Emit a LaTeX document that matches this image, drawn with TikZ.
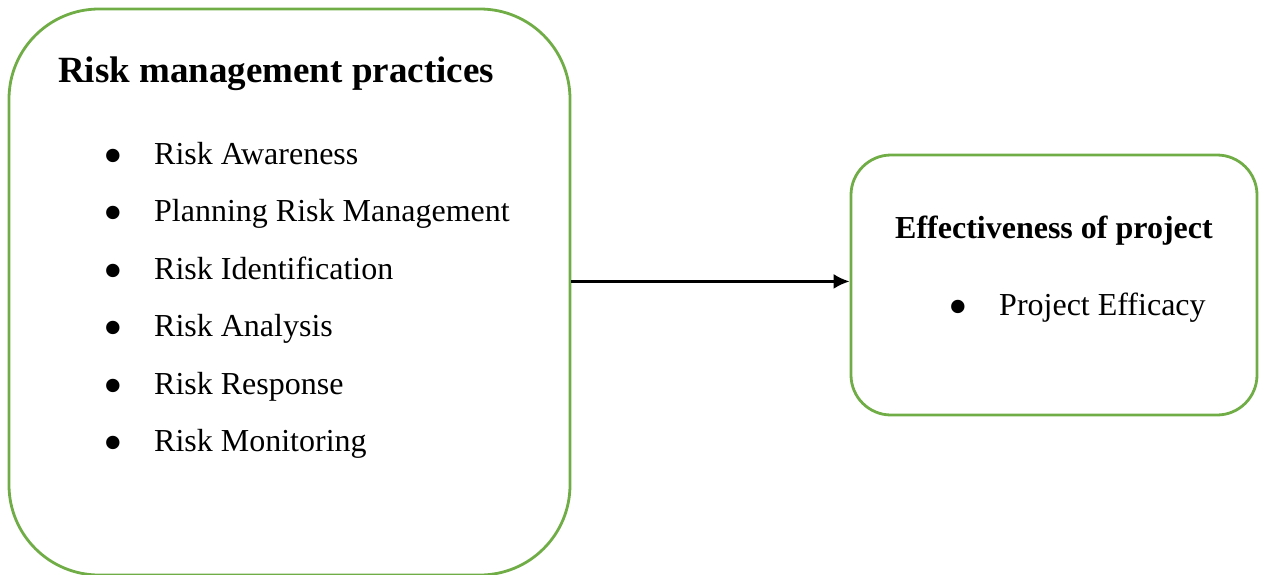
\documentclass[tikz,border=0pt]{standalone}
\usepackage{fontspec}
\setmainfont{Liberation Serif}
\usepackage{xcolor}
\usetikzlibrary{arrows.meta}
\definecolor{boxgreen}{HTML}{70AD47}
\newcommand{\bul}{\makebox[51pt][l]{\raisebox{-10pt}{\fontsize{56}{56}\selectfont\textbullet}}}

\begin{document}
\begin{tikzpicture}[x=1pt, y=-1pt, >={Latex[length=16pt,width=15pt]},
    box/.style={draw=boxgreen, line width=2.8pt, rounded corners=#1, inner sep=0pt},
    head/.style={font=\fontsize{37}{40}\selectfont\bfseries, anchor=base west, inner sep=0pt},
    subhead/.style={font=\fontsize{32}{36}\selectfont\bfseries, anchor=base west, inner sep=0pt},
    item/.style={font=\fontsize{32}{36}\selectfont, anchor=base west, inner sep=0pt}]
  \useasboundingbox (0,0) rectangle (1264,574);
  % the two boxes
  \node[box=90pt, minimum width=561pt, minimum height=566pt] (practices) at (289.5,292) {};
  \node[box=40pt, minimum width=406pt, minimum height=260pt] (effect)    at (1054,285)  {};
  % left box text
  \node[head] (practices_t) at (58,82) {Risk management practices};
  \node[item] (aware)    at (103,164)   {\bul Risk Awareness};
  \node[item] (plan)     at (103,221.5) {\bul Planning Risk Management};
  \node[item] (ident)    at (103,279)   {\bul Risk Identification};
  \node[item] (analysis) at (103,336.5) {\bul Risk Analysis};
  \node[item] (response) at (103,394)   {\bul Risk Response};
  \node[item] (monitor)  at (103,451.5) {\bul Risk Monitoring};
  % right box text
  \node[subhead] (effect_t) at (895,238) {Effectiveness of project};
  \node[item]    (efficacy) at (948,315) {\bul Project Efficacy};
  \path[->, line width=2.5pt]
    (practices.east |- effect.179) edge (effect.179);
\end{tikzpicture}
\end{document}
